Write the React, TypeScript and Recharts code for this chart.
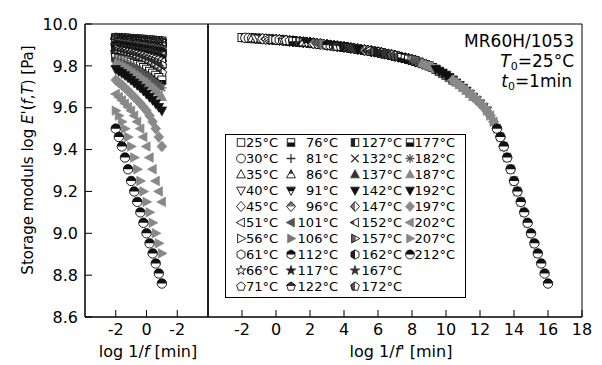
import { ScatterChart, Scatter, XAxis, YAxis, ReferenceArea, Legend } from 'recharts';

// measuring temperatures (°C)
const TEMPS = [
  25, 30, 35, 40, 45, 51, 56, 61, 66, 71,
  76, 81, 86, 91, 96, 101, 106, 112, 117, 122,
  127, 132, 137, 142, 147, 152, 157, 162, 167, 172,
  177, 182, 187, 192, 197, 202, 207, 212,
];

// horizontal shift log a_T of each temperature
const SHIFTS = [
  0, 0.2, 0.6, 0.8, 1.2, 1.4, 1.8, 2.0, 2.4, 2.6,
  3.0, 3.2, 3.6, 3.8, 4.2, 4.4, 4.8, 5.0, 5.4, 5.6,
  6.0, 6.2, 6.6, 6.8, 7.2, 7.4, 7.8, 8.0, 8.4, 8.8,
  9.4, 10.0, 10.6, 11.4, 12.4, 13.4, 14.4, 15.0,
];

// measured log 1/f values of each run
const LOCAL_X = [-2, -1.8, -1.6, -1.4, -1.2, -1, -0.8, -0.6, -0.4, -0.2, 0, 0.2, 0.4, 0.6, 0.8, 1];

// master curve log E' read every 0.2 decade from log 1/f' = -2 to 16
const MASTER_X0 = -2;
const MASTER_STEP = 0.2;
const MASTER_Y = [
  9.935, 9.934, 9.933, 9.932, 9.931, 9.930, 9.929, 9.928, 9.927, 9.926, 9.925,
  9.924, 9.922, 9.921, 9.919, 9.918, 9.916, 9.915, 9.913, 9.912, 9.910,
  9.908, 9.906, 9.904, 9.902, 9.900, 9.898, 9.896, 9.894, 9.892, 9.890,
  9.888, 9.885, 9.883, 9.880, 9.878, 9.875, 9.873, 9.870, 9.868, 9.865,
  9.862, 9.858, 9.855, 9.851, 9.848, 9.844, 9.840, 9.836, 9.832, 9.828,
  9.823, 9.817, 9.812, 9.806, 9.800, 9.792, 9.784, 9.774, 9.765, 9.755,
  9.744, 9.732, 9.720, 9.708, 9.695, 9.681, 9.666, 9.651, 9.636, 9.620,
  9.603, 9.586, 9.562, 9.533, 9.500, 9.460, 9.415, 9.362, 9.306, 9.250,
  9.200, 9.150, 9.100, 9.050, 9.000, 8.952, 8.904, 8.856, 8.808, 8.760,
];

const Y_TICKS = [8.6, 8.8, 9.0, 9.2, 9.4, 9.6, 9.8, 10.0];
const LEFT_TICKS = [-2, 0, 2];
const LEFT_TICK_LABELS = ['-2', '0', '-2'];
const RIGHT_TICKS = [-2, 0, 2, 4, 6, 8, 10, 12, 14, 16, 18];

type Shape = 'square' | 'circle' | 'triUp' | 'triDown' | 'diamond' | 'triLeft' | 'triRight' |
  'hexagon' | 'star' | 'pentagon' | 'plus' | 'cross' | 'aster';
type Fill = 'open' | 'full' | 'top' | 'bottom' | 'left';
type MarkStyle = [Shape, Fill, string];

const MARKS: MarkStyle[] = [
  ['square', 'open', '#fff'], ['circle', 'open', '#fff'], ['triUp', 'open', '#fff'], ['triDown', 'open', '#fff'],
  ['diamond', 'open', '#fff'], ['triLeft', 'open', '#fff'], ['triRight', 'open', '#fff'], ['hexagon', 'open', '#fff'],
  ['star', 'open', '#fff'], ['pentagon', 'open', '#fff'],
  ['square', 'bottom', '#111'], ['plus', 'full', '#333'], ['triUp', 'top', '#444'], ['triDown', 'top', '#111'],
  ['diamond', 'top', '#777'], ['triLeft', 'full', '#555'], ['triRight', 'full', '#777'], ['hexagon', 'top', '#111'],
  ['star', 'full', '#222'], ['pentagon', 'top', '#333'],
  ['square', 'left', '#222'], ['cross', 'full', '#333'], ['triUp', 'full', '#333'], ['triDown', 'full', '#111'],
  ['diamond', 'left', '#777'], ['triLeft', 'left', '#555'], ['triRight', 'left', '#666'], ['hexagon', 'left', '#222'],
  ['star', 'full', '#333'], ['pentagon', 'left', '#555'],
  ['square', 'bottom', '#111'], ['aster', 'full', '#555'], ['triUp', 'full', '#888'], ['triDown', 'full', '#111'],
  ['diamond', 'full', '#8a8a8a'], ['triLeft', 'full', '#888'], ['triRight', 'full', '#888'], ['circle', 'top', '#111'],
];

const POLY: Record<string, string> = {
  triUp: '0,-4.6 4.2,3.2 -4.2,3.2',
  triDown: '0,4.6 4.2,-3.2 -4.2,-3.2',
  diamond: '0,-4.8 4.3,0 0,4.8 -4.3,0',
  triLeft: '-4.6,0 3.2,-4.2 3.2,4.2',
  triRight: '4.6,0 -3.2,-4.2 -3.2,4.2',
  hexagon: '0,-4.4 3.8,-2.2 3.8,2.2 0,4.4 -3.8,2.2 -3.8,-2.2',
  star: '0,-4.8 1.12,-1.54 4.56,-1.48 1.81,0.59 2.82,3.88 0,1.9 -2.82,3.88 -1.81,0.59 -4.56,-1.48 -1.12,-1.54',
  pentagon: '0,-4.4 4.18,-1.36 2.59,3.56 -2.59,3.56 -4.18,-1.36',
};

const LINES: Record<string, string> = {
  plus: 'M-4.2,0H4.2M0,-4.2V4.2',
  cross: 'M-3.6,-3.6L3.6,3.6M-3.6,3.6L3.6,-3.6',
  aster: 'M-4.2,0H4.2M0,-4.2V4.2M-3,-3L3,3M-3,3L3,-3',
};

const masterAt = (x: number) => MASTER_Y[Math.round((x - MASTER_X0) / MASTER_STEP)];

const leftSeries = TEMPS.map((_, i) => LOCAL_X.map((lx) => ({ x: lx, y: masterAt(lx + SHIFTS[i]) })));
const rightSeries = TEMPS.map((_, i) => LOCAL_X.map((lx) => ({ x: lx + SHIFTS[i], y: masterAt(lx + SHIFTS[i]) })));

function Glyph({ shape, ...rest }: any) {
  if (shape === 'square') return <rect x={-3.6} y={-3.6} width={7.2} height={7.2} {...rest} />;
  if (shape === 'circle') return <circle r={4.2} {...rest} />;
  return <polygon points={POLY[shape]} {...rest} />;
}

function Mark({ cx, cy, style, k = 1.12 }: { cx?: number; cy?: number; style: MarkStyle; k?: number }) {
  if (cx == null || cy == null) return null;
  const [shape, fill, color] = style;
  const t = `translate(${cx},${cy}) scale(${k})`;
  if (LINES[shape]) {
    return <path transform={t} d={LINES[shape]} stroke={color} strokeWidth={1.2} fill="none" />;
  }
  if (fill === 'full') {
    return (
      <g transform={t}>
        <Glyph shape={shape} fill={color} stroke={color} strokeWidth={0.7} />
      </g>
    );
  }
  return (
    <g transform={t}>
      <Glyph shape={shape} fill="#fff" stroke="none" />
      {fill !== 'open' && <Glyph shape={shape} fill={color} stroke="none" clipPath={`url(#half-${fill})`} />}
      <Glyph shape={shape} fill="none" stroke="#000" strokeWidth={0.8} />
    </g>
  );
}

const LEG_MX = [16, 66, 130, 185];
const LEG_TX = [53, 113, 177, 230];

function LegendBox() {
  return (
    <svg width={241} height={164} style={{ display: 'block' }}>
      <rect x={0.5} y={0.5} width={240} height={163} fill="#fff" stroke="#000" />
      {TEMPS.map((t, i) => {
        const col = Math.floor(i / 10);
        const cy = 8.5 + (i % 10) * 16;
        return (
          <g key={t}>
            <Mark cx={LEG_MX[col]} cy={cy} style={MARKS[i]} k={1.05} />
            <text x={LEG_TX[col]} y={cy + 4.7} textAnchor="end" fontSize={13} fill="#000">
              {t}°C
            </text>
          </g>
        );
      })}
    </svg>
  );
}

const tickStyle = { fontSize: 16, fill: '#000' };

export default function App() {
  return (
    <div style={{ position: 'relative', width: 602, height: 365, background: '#fff', fontFamily: '"DejaVu Sans", sans-serif' }}>
      <style>{'body{margin:0}'}</style>
      <svg width={0} height={0} style={{ position: 'absolute' }}>
        <defs>
          <clipPath id="half-top" clipPathUnits="objectBoundingBox">
            <rect x={0} y={0} width={1} height={0.5} />
          </clipPath>
          <clipPath id="half-bottom" clipPathUnits="objectBoundingBox">
            <rect x={0} y={0.5} width={1} height={0.5} />
          </clipPath>
          <clipPath id="half-left" clipPathUnits="objectBoundingBox">
            <rect x={0} y={0} width={0.5} height={1} />
          </clipPath>
        </defs>
      </svg>

      <div style={{ position: 'absolute', left: 0, top: 0 }}>
        <ScatterChart width={210} height={365} margin={{ top: 24, right: 2, bottom: 0, left: 0 }}>
          <XAxis
            type="number"
            dataKey="x"
            domain={[-4, 4]}
            ticks={LEFT_TICKS}
            interval={0}
            tickFormatter={(v: number) => LEFT_TICK_LABELS[LEFT_TICKS.indexOf(v)]}
            height={48}
            tickSize={-7}
            tickMargin={14}
            tick={tickStyle}
            stroke="#000"
          />
          <YAxis
            type="number"
            dataKey="y"
            domain={[8.6, 10]}
            ticks={Y_TICKS}
            interval={0}
            tickFormatter={(v: number) => v.toFixed(1)}
            width={85}
            tickSize={-7}
            tickMargin={14}
            tick={tickStyle}
            stroke="#000"
          />
          <ReferenceArea x1={-4} x2={4} y1={8.6} y2={10} fill="none" stroke="#000" strokeWidth={1} />
          {leftSeries.map((d, i) => (
            <Scatter
              key={TEMPS[i]}
              name={`${TEMPS[i]}°C`}
              data={d}
              isAnimationActive={false}
              shape={(p: any) => <Mark cx={p.cx} cy={p.cy} style={MARKS[i]} />}
            />
          ))}
          <text x={33} y={160} transform="rotate(-90 33 160)" textAnchor="middle" fontSize={15} fill="#000">
            Storage moduls log <tspan fontStyle="italic">E</tspan>'(<tspan fontStyle="italic">f</tspan>,
            <tspan fontStyle="italic">T</tspan>) [Pa]
          </text>
          <text x={148} y={357} textAnchor="middle" fontSize={16} fill="#000">
            log 1/<tspan fontStyle="italic">f</tspan> [min]
          </text>
        </ScatterChart>
      </div>

      <div style={{ position: 'absolute', left: 200, top: 0 }}>
        <ScatterChart width={402} height={365} margin={{ top: 24, right: 20, bottom: 0, left: 7 }}>
          <XAxis
            type="number"
            dataKey="x"
            domain={[-4, 18]}
            ticks={RIGHT_TICKS}
            interval={0}
            height={48}
            tickSize={-7}
            tickMargin={14}
            tick={tickStyle}
            stroke="#000"
          />
          <YAxis
            type="number"
            dataKey="y"
            domain={[8.6, 10]}
            ticks={Y_TICKS}
            interval={0}
            width={1}
            tickSize={-7}
            tick={false}
            stroke="#000"
          />
          <ReferenceArea x1={-4} x2={18} y1={8.6} y2={10} fill="none" stroke="#000" strokeWidth={1} />
          {rightSeries.map((d, i) => (
            <Scatter
              key={TEMPS[i]}
              name={`${TEMPS[i]}°C`}
              data={d}
              isAnimationActive={false}
              shape={(p: any) => <Mark cx={p.cx} cy={p.cy} style={MARKS[i]} />}
            />
          ))}
          <Legend
            layout="horizontal"
            verticalAlign="middle"
            align="center"
            content={() => <LegendBox />}
            wrapperStyle={{ left: 25, top: 134, width: 241, height: 164 }}
          />
          <text x={374} y={47} textAnchor="end" fontSize={17} fill="#000">MR60H/1053</text>
          <text x={374} y={67} textAnchor="end" fontSize={17} fill="#000">
            <tspan fontStyle="italic">T</tspan>
            <tspan dy={3} fontSize={11}>0</tspan>
            <tspan dy={-3}>=25°C</tspan>
          </text>
          <text x={372} y={87} textAnchor="end" fontSize={17} fill="#000">
            <tspan fontStyle="italic">t</tspan>
            <tspan dy={3} fontSize={11}>0</tspan>
            <tspan dy={-3}>=1min</tspan>
          </text>
          <text x={201} y={357} textAnchor="middle" fontSize={16} fill="#000">
            log 1/<tspan fontStyle="italic">f'</tspan> [min]
          </text>
        </ScatterChart>
      </div>
    </div>
  );
}
